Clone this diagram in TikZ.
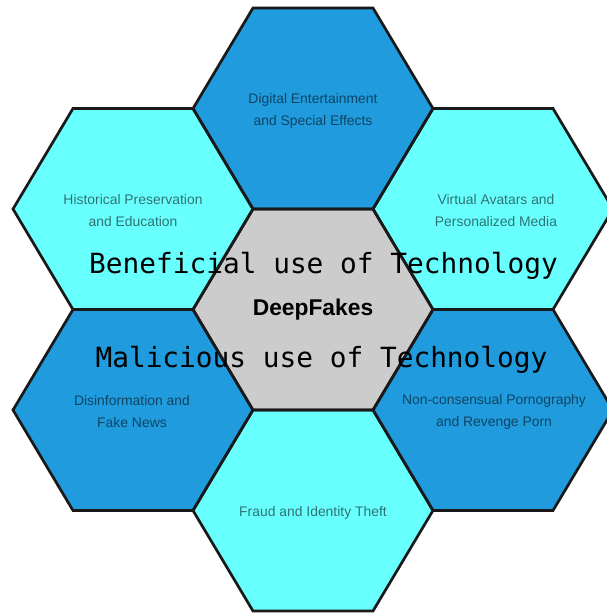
\documentclass[tikz,border=0pt]{standalone}
\usepackage{fontspec}
\setmainfont{Liberation Sans}
\newfontfamily\monofont{DejaVu Sans Mono}
\definecolor{hexblue}{RGB}{32,155,222}
\definecolor{hexcyan}{RGB}{104,255,255}
\definecolor{hexgray}{RGB}{204,204,204}
\tikzset{
	hexa/.style = {draw = black!90, line width = 2.7pt},
	hexlabel/.style = {align = center, text = black, text opacity = 0.55, font = \fontsize{13.9}{22}\selectfont},
	usetext/.style = {anchor = base, text = black, font = \monofont\fontsize{27.8}{30}\selectfont}
}
\begin{document}
\begin{tikzpicture}[x = 1pt, y = -1pt]
		\useasboundingbox (0, 0) rectangle (606, 613);
		% hexagons of the honeycomb
		\foreach \x/\y/\col in {313/108.5/hexblue, 133/209/hexcyan, 493/209/hexcyan, 313/309.5/hexgray, 133/410/hexblue, 493/410/hexblue, 313/510.5/hexcyan}{
			\fill[fill = \col] (\x, \y) ++(-120, 0) -- ++(60, -100.5) -- ++(120, 0) -- ++(60, 100.5) -- ++(-60, 100.5) -- ++(-120, 0) -- cycle;}
		\foreach \x/\y in {313/108.5, 133/209, 493/209, 313/309.5, 133/410, 493/410, 313/510.5}{
			\draw[hexa] (\x, \y) ++(-120, 0) -- ++(60, -100.5) -- ++(120, 0) -- ++(60, 100.5) -- ++(-60, 100.5) -- ++(-120, 0) -- cycle;}
		% labels
		\foreach \x/\y/\name/\txt in {313/111/digital/{Digital Entertainment\\and Special Effects}, 133/211/history/{Historical Preservation\\and Education}, 496/211/avatars/{Virtual Avatars and\\Personalized Media}, 132/412/disinfo/{Disinformation and\\Fake News}, 494/412/revenge/{Non-consensual Pornography\\and Revenge Porn}, 313/513/fraud/{Fraud and Identity Theft}}{
			\node[hexlabel] (\name) at (\x, \y) {\txt};}
		\node[font = \bfseries\fontsize{22.8}{25}\selectfont] (deepfakes) at (313, 310) {DeepFakes};
		\node[usetext] (benefit) at (323.5, 273) {Beneficial use of Technology};
		\node[usetext] (malice) at (321.5, 367) {Malicious use of Technology};
\end{tikzpicture}
\end{document}
